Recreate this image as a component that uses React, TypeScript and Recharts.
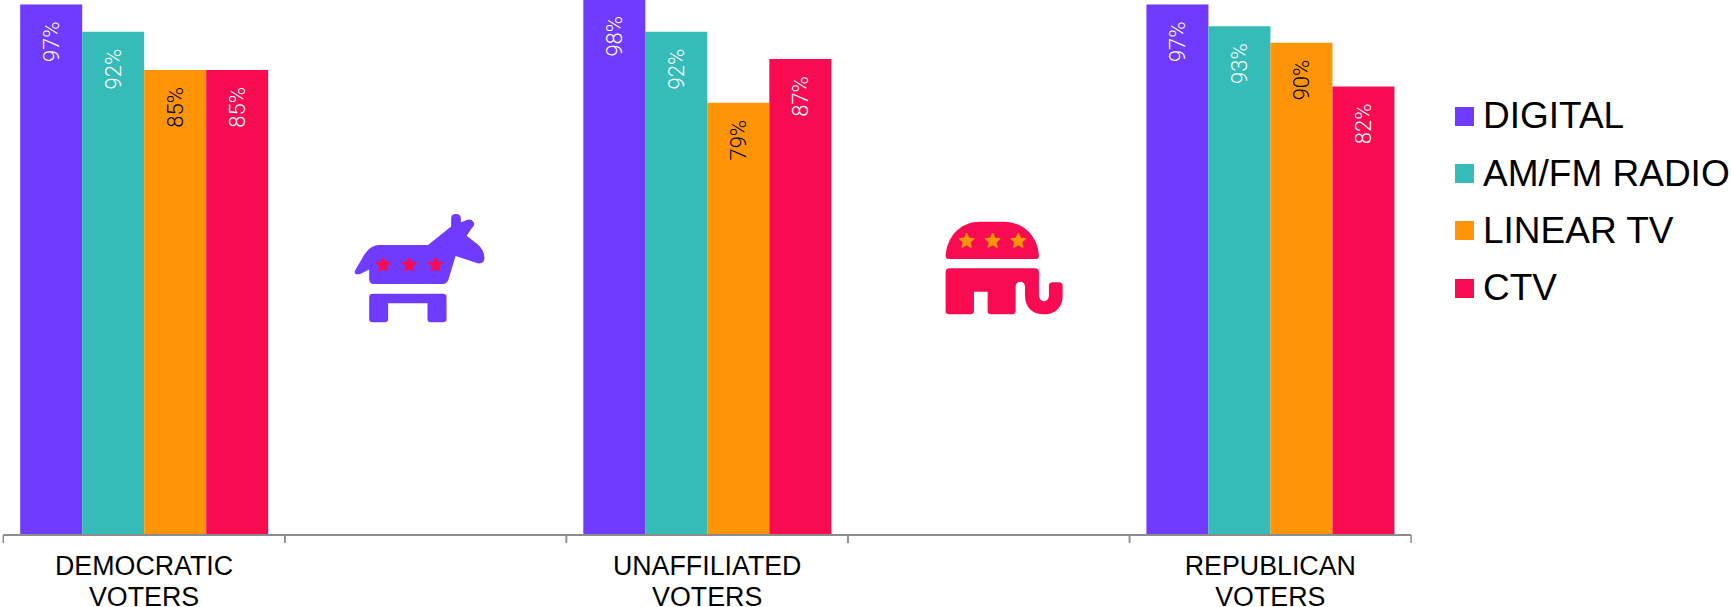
import React from 'react';
import { Bar, BarChart, LabelList, Legend, ReferenceDot, XAxis, YAxis } from 'recharts';

const categories = ['DEMOCRATIC VOTERS', 'gap-left', 'UNAFFILIATED VOTERS', 'gap-right', 'REPUBLICAN VOTERS'];
const digital = [97, null, 98, null, 97];
const radio = [92, null, 92, null, 93];
const linearTv = [85, null, 79, null, 90];
const ctv = [85, null, 87, null, 82];

const PURPLE = '#6f3bff';
const TEAL = '#35bcb9';
const ORANGE = '#ff9506';
const PINK = '#f90b52';
const FONT = '"Liberation Sans", Arial, sans-serif';

const PLOT_WIDTH = 1407.8;
const BAND = PLOT_WIDTH / categories.length;

const chartData = categories.map((category, i) => ({
  category,
  digital: digital[i],
  radio: radio[i],
  linearTv: linearTv[i],
  ctv: ctv[i]
}));

const starPoints = (cx: number, cy: number, r: number) => {
  const pts: string[] = [];
  for (let i = 0; i < 10; i++) {
    const radius = i % 2 === 0 ? r : r * 0.45;
    const angle = -Math.PI / 2 + (i * Math.PI) / 5;
    pts.push(`${cx + radius * Math.cos(angle)},${cy + radius * Math.sin(angle)}`);
  }
  return pts.join(' ');
};

const Stars = ({ xs, y, r, color }: { xs: number[]; y: number; r: number; color: string }) => (
  <>
    {xs.map((x) => (
      <polygon key={x} points={starPoints(x, y, r)} fill={color} stroke={color} strokeWidth={5} strokeLinejoin="round" />
    ))}
  </>
);

// Party icons are drawn on a 3x grid, then scaled down around the gap category's centre
const DonkeyIcon = ({ cx, cy }: any) => (
  <g transform={`translate(${cx - 95.8} ${cy - 61.5}) scale(${1 / 3})`}>
    <path
      d="M78 212 L105 165 Q122 137 150 137 L295 137 L366 80 L366 55 Q366 44 378 44 Q391 44 391 55 L391 70 L412 62 Q424 58 430 68 Q434 76 424 84 L408 108 L442 134 Q462 152 462 176 Q460 190 444 188 L376 165 L354 238 Q350 250 338 250 L132 250 Q120 250 120 238 L120 205 L90 220 Q72 224 78 212 Z"
      fill={PURPLE}
      stroke={PURPLE}
      strokeWidth={4}
      strokeLinejoin="round"
    />
    <path
      d="M130 281 L340 281 Q350 281 350 291 L350 357 Q350 367 340 367 L303 367 Q293 367 293 357 L293 310 L175 310 L175 357 Q175 367 165 367 L128 367 Q118 367 118 357 L118 291 Q118 281 130 281 Z"
      fill={PURPLE}
    />
    <Stars xs={[160, 238, 317]} y={195} r={21} color={PINK} />
  </g>
);

const ElephantIcon = ({ cx, cy }: any) => (
  <g transform={`translate(${cx - 63.8} ${cy - 56.5}) scale(${1 / 3})`}>
    <path
      d="M62 152 C66 90 110 50 165 50 L235 50 C295 50 338 92 342 152 Q342 162 332 162 L72 162 Q62 162 62 152 Z"
      fill={PINK}
    />
    <path
      d="M74 190 L330 190 Q342 190 342 202 L342 270 C342 295 372 295 372 270 L372 243 Q372 232 383 232 L402 232 Q413 232 413 243 L413 272 C413 312 385 328 357 328 C325 328 300 310 300 270 L300 246 C300 225 272 225 272 246 L272 318 Q272 328 262 328 L198 328 Q188 328 188 318 L188 260 L147 260 L147 318 Q147 328 137 328 L72 328 Q62 328 62 318 L62 202 Q62 190 74 190 Z"
      fill={PINK}
    />
    <Stars xs={[125, 203, 280]} y={108} r={22} color={ORANGE} />
  </g>
);

// Category labels wrap on two lines, and tick marks sit on the band edges
const CategoryTick = ({ x, y, payload }: any) => {
  const isGap = String(payload.value).startsWith('gap');
  const lines = isGap ? [] : String(payload.value).split(' ');
  return (
    <g>
      {[x - BAND / 2, x + BAND / 2].map((tx) => (
        <line key={tx} x1={tx} x2={tx} y1={y} y2={y + 8} stroke="#8c8c8c" strokeWidth={1.5} />
      ))}
      {lines.map((line, i) => (
        <text key={line} x={x} y={y + 40 + i * 31} textAnchor="middle" fontSize={26.8} fontFamily={FONT} fill="#000">
          {line}
        </text>
      ))}
    </g>
  );
};

// Rotated value label, just under the top of the bar
const valueLabel = (color: string) => (props: any) => {
  const { x, y, width, value } = props;
  if (value === null || value === undefined) return null;
  const cx = x + width / 2;
  const top = y + 17;
  return (
    <text
      transform={`translate(${cx} ${top}) rotate(-90)`}
      dy={8}
      textAnchor="end"
      fontSize={22}
      fontWeight={300}
      fontFamily='Roboto, "Liberation Sans", sans-serif'
      fill={color}
    >
      {value}%
    </text>
  );
};

const LegendList = ({ payload }: any) => (
  <div style={{ fontFamily: FONT, fontSize: 37, color: '#000' }}>
    {(payload || []).map((entry: any) => (
      <div key={entry.value} style={{ display: 'flex', alignItems: 'center', height: 57.3, whiteSpace: 'nowrap' }}>
        <span style={{ width: 19, height: 19, background: entry.color, marginRight: 9, flex: 'none' }} />
        <span>{entry.value}</span>
      </div>
    ))}
  </div>
);

export default function App() {
  return (
    <div style={{ position: 'absolute', left: 0, top: 0, width: 1731, height: 607, overflow: 'hidden', background: '#fff' }}>
      <div style={{ position: 'absolute', left: 0, top: -12 }}>
        <BarChart
          width={1731}
          height={619}
          data={chartData}
          margin={{ top: 0, right: 319.9, bottom: 0, left: 3.3 }}
          barCategoryGap="6%"
          barGap={0}
        >
          <XAxis
            dataKey="category"
            height={72}
            interval={0}
            tickLine={false}
            tickSize={0}
            tickMargin={0}
            axisLine={{ stroke: '#8c8c8c', strokeWidth: 2 }}
            tick={<CategoryTick />}
          />
          <YAxis hide domain={[0, 100]} />
          <Legend
            layout="vertical"
            align="center"
            verticalAlign="middle"
            itemSorter={null}
            wrapperStyle={{ left: 1455, top: 99.7, width: 276 }}
            content={<LegendList />}
          />
          <Bar dataKey="digital" name="DIGITAL" fill={PURPLE} isAnimationActive={false}>
            <LabelList dataKey="digital" content={valueLabel('#fff')} />
          </Bar>
          <Bar dataKey="radio" name="AM/FM RADIO" fill={TEAL} isAnimationActive={false}>
            <LabelList dataKey="radio" content={valueLabel('#fff')} />
          </Bar>
          <Bar dataKey="linearTv" name="LINEAR TV" fill={ORANGE} isAnimationActive={false}>
            <LabelList dataKey="linearTv" content={valueLabel('#000')} />
          </Bar>
          <Bar dataKey="ctv" name="CTV" fill={PINK} isAnimationActive={false}>
            <LabelList dataKey="ctv" content={valueLabel('#fff')} />
          </Bar>
          <ReferenceDot x="gap-left" y={50} shape={(p: any) => <DonkeyIcon {...p} />} />
          <ReferenceDot x="gap-right" y={50} shape={(p: any) => <ElephantIcon {...p} />} />
        </BarChart>
      </div>
    </div>
  );
}
